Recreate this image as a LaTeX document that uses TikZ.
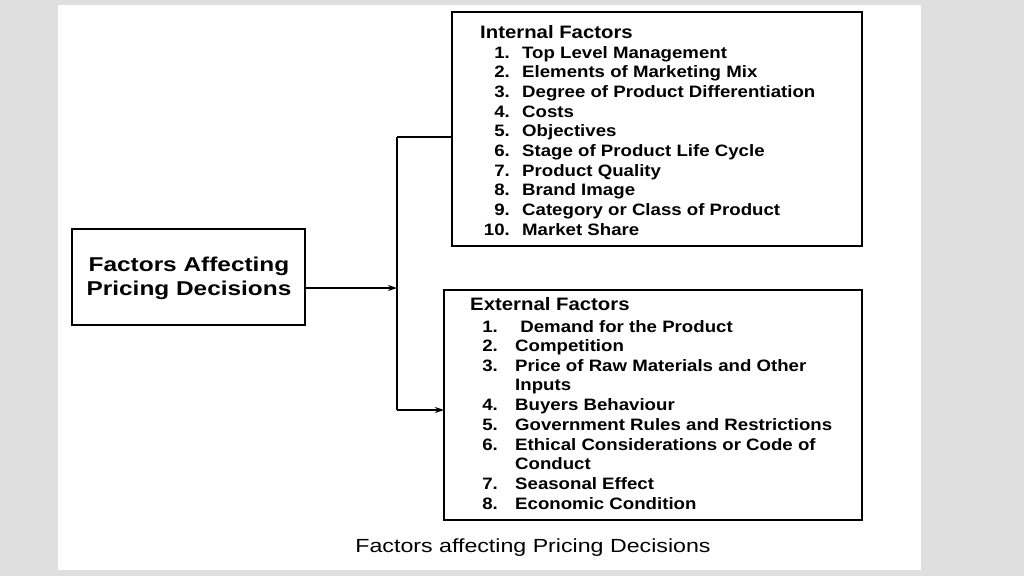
\documentclass[tikz,border=0pt]{standalone}
\usepackage{fontspec}
\setmainfont{Liberation Sans}
\newfontfamily\wideA[FakeStretch=1.13]{Liberation Sans}
\newfontfamily\wideB[FakeStretch=1.22]{Liberation Sans}
\usetikzlibrary{arrows.meta}
\begin{document}
\begin{tikzpicture}[x=1pt,y=-1pt,
  bx/.style={draw,line width=1.6pt},
  itm/.style={anchor=base west,inner sep=0pt,font=\wideA\bfseries\fontsize{16.5}{16}\selectfont},
  num/.style={anchor=base east,inner sep=0pt,font=\wideA\bfseries\fontsize{16.5}{16}\selectfont},
  ln/.style={line width=1.2pt},
  arr/.style={ln,-{Stealth[length=9pt,width=6pt]}}]
\useasboundingbox (0,0) rectangle (1024,576);
\fill[gray!25] (0,0) rectangle (1024,576);
\fill[white] (58,5) rectangle (921,570);
\draw[bx] (72,229) rectangle (305,325);
\node[font=\wideB\bfseries\fontsize{20}{24}\selectfont,align=center] (main) at (189,278) {Factors Affecting\\Pricing Decisions};
\draw[bx] (452,12) rectangle (862,246);
\draw[bx] (444,290) rectangle (862,520);
\coordinate (j) at (397,288);
\coordinate (top) at (397,137);
\coordinate (bot) at (397,410);
\draw[arr] (305,288) -- (j);
\draw[ln] (top) -- (bot);
\draw[ln] (top) -- (452,137);
\draw[arr] (bot) -- (444,410);
\node[itm,font=\wideA\bfseries\fontsize{18}{16}\selectfont] at (480,38) {Internal Factors};
\foreach \n/\t [count=\i from 0] in {1./Top Level Management,2./Elements of Marketing Mix,3./Degree of Product Differentiation,4./Costs,5./Objectives,6./Stage of Product Life Cycle,7./Product Quality,8./Brand Image,9./Category or Class of Product,10./Market Share}{
  \node[num] at (510,58+19.7*\i) {\n};
  \node[itm] at (522,58+19.7*\i) {\t};
}
\node[itm,font=\wideA\bfseries\fontsize{18}{16}\selectfont] at (470,310) {External Factors};
\foreach \n/\t/\y in {1./\ Demand for the Product/332,2./Competition/351,3./Price of Raw Materials and Other/371,/Inputs/390,4./Buyers Behaviour/410,5./Government Rules and Restrictions/430,6./Ethical Considerations or Code of/450,/Conduct/469,7./Seasonal Effect/489,8./Economic Condition/509}{
  \node[num] at (498,\y) {\n};
  \node[itm] at (515,\y) {\t};
}
\node[font=\wideB\fontsize{19}{19}\selectfont] (cap) at (533,548) {Factors affecting Pricing Decisions};
\end{tikzpicture}
\end{document}
